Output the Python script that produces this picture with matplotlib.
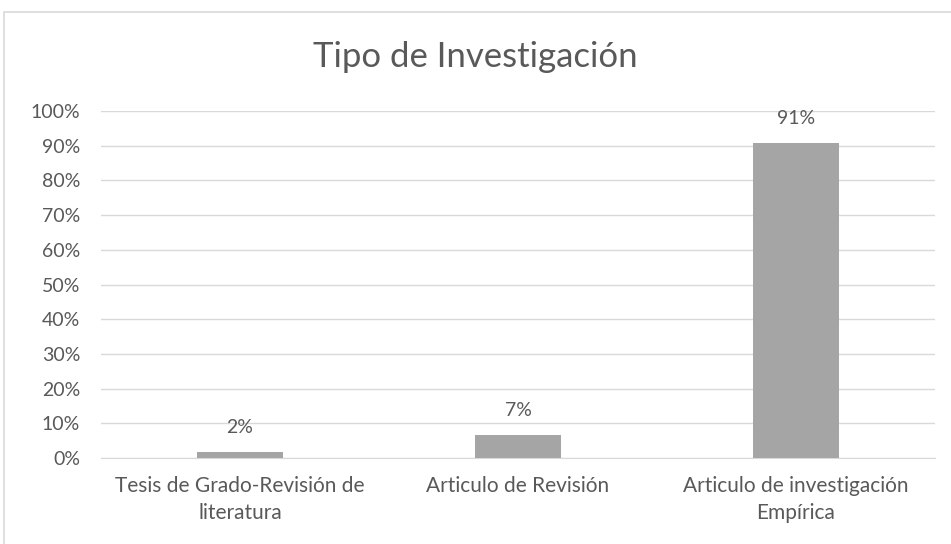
import matplotlib.pyplot as plt
from matplotlib.patches import Rectangle
from matplotlib.ticker import FuncFormatter

categories = ['Tesis de Grado-Revisión de\nliteratura',
              'Articulo de Revisión',
              'Articulo de investigación\nEmpírica']
values = [0.017, 0.066, 0.909]
labels = ['2%', '7%', '91%']
yticks = [i / 10 for i in range(11)]

plt.rcParams['font.family'] = ['Lato', 'DejaVu Sans']
text_color = '#595959'

fig = plt.figure(figsize=(9.51, 5.44), dpi=100)
ax = fig.add_axes([101 / 951, 1 - 458 / 544, 834 / 951, 347 / 544])

# outer chart frame like the spreadsheet chart border
fig.patches.append(Rectangle((4 / 951, -0.02), 1.0, 1 - 12 / 544 + 0.02,
                             transform=fig.transFigure, fill=False,
                             edgecolor='#d9d9d9', linewidth=1.2))

x = range(len(categories))
ax.bar(x, values, width=0.31, color='#a5a5a5', zorder=3)
for xi, v, lab in zip(x, values, labels):
    ax.text(xi, v + 0.045, lab, ha='center', va='bottom', fontsize=14, color=text_color)

ax.set_xlim(-0.5, 2.5)
ax.set_ylim(0, 1.0)
ax.set_yticks(yticks)
ax.yaxis.set_major_formatter(FuncFormatter(lambda v, pos: '{:.0f}%'.format(v * 100)))
ax.set_xticks(list(x))
ax.set_xticklabels(categories, fontsize=15, color=text_color, linespacing=1.45)
ax.tick_params(axis='y', labelsize=14, labelcolor=text_color, length=0, pad=15)
ax.tick_params(axis='x', length=0, pad=13)

ax.yaxis.grid(True, color='#d9d9d9', linewidth=1, zorder=0)
for s in ['top', 'right', 'left']:
    ax.spines[s].set_visible(False)
ax.spines['bottom'].set_color('#d9d9d9')

fig.text(0.5, 1 - 57 / 544, 'Tipo de Investigación', ha='center', va='center',
         fontsize=25, color=text_color)

fig.savefig('out.png', dpi=100)
